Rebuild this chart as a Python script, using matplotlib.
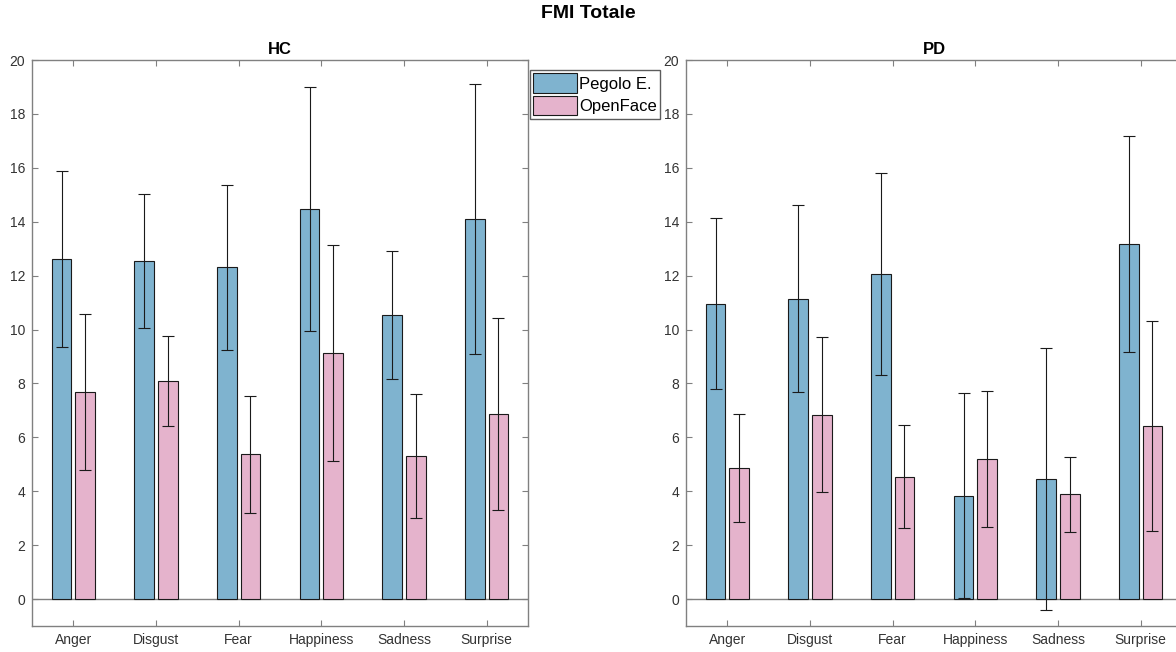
import numpy as np
import matplotlib
matplotlib.use('Agg')
import matplotlib.pyplot as plt

plt.rcParams['font.family'] = ['Liberation Sans', 'DejaVu Sans']

emotions = ['Anger', 'Disgust', 'Fear', 'Happiness', 'Sadness', 'Surprise']

hc_pegolo = [12.62, 12.54, 12.31, 14.47, 10.54, 14.10]
hc_pegolo_err = [3.25, 2.47, 3.07, 4.52, 2.37, 5.00]
hc_openface = [7.67, 8.09, 5.38, 9.13, 5.31, 6.86]
hc_openface_err = [2.90, 1.68, 2.17, 4.00, 2.29, 3.56]

pd_pegolo = [10.95, 11.15, 12.06, 3.83, 4.44, 13.17]
pd_pegolo_err = [3.17, 3.48, 3.73, 3.80, 4.86, 4.00]
pd_openface = [4.85, 6.84, 4.54, 5.21, 3.88, 6.42]
pd_openface_err = [2.00, 2.88, 1.91, 2.52, 1.40, 3.90]

blue = '#7fb3cf'
pink = '#e5b3cc'
spine_col = '#808080'
text_col = '#333333'

fig = plt.figure(figsize=(11.76, 6.52), dpi=100)
ax1 = fig.add_axes([32 / 1176, 26 / 652, 496 / 1176, 566 / 652])
ax2 = fig.add_axes([686 / 1176, 26 / 652, 496 / 1176, 566 / 652])

x = np.arange(1, len(emotions) + 1)
w = 0.24
off = 0.143


def draw(ax, a, a_err, b, b_err, title):
    ax.axhline(0, color=spine_col, lw=1, zorder=1)
    ax.bar(x - off, a, w, color=blue, edgecolor='#1a1a1a', lw=0.8, zorder=2, label='Pegolo E.')
    ax.bar(x + off, b, w, color=pink, edgecolor='#1a1a1a', lw=0.8, zorder=2, label='OpenFace')
    ax.errorbar(x - off, a, yerr=a_err, fmt='none', ecolor='#1a1a1a', elinewidth=0.8,
                capsize=4, capthick=0.8, zorder=3)
    ax.errorbar(x + off, b, yerr=b_err, fmt='none', ecolor='#1a1a1a', elinewidth=0.8,
                capsize=4, capthick=0.8, zorder=3)
    ax.set_xlim(0.5, 6.5)
    ax.set_ylim(-1, 20)
    ax.set_xticks(x)
    ax.set_xticklabels(emotions)
    ax.set_yticks(range(0, 21, 2))
    ax.tick_params(direction='in', top=True, right=True, length=4, width=0.8,
                   color=spine_col, labelcolor=text_col, labelsize=10, pad=5)
    for s in ax.spines.values():
        s.set_color(spine_col)
        s.set_linewidth(1)
    ax.set_title(title, fontsize=12, fontweight='bold', pad=4)


draw(ax1, hc_pegolo, hc_pegolo_err, hc_openface, hc_openface_err, 'HC')
draw(ax2, pd_pegolo, pd_pegolo_err, pd_openface, pd_openface_err, 'PD')

h, l = ax1.get_legend_handles_labels()
fig.legend(h, l, loc='upper left', bbox_to_anchor=(530 / 1176, 1 - 70 / 652),
           fontsize=12, frameon=True, fancybox=False, edgecolor='#333333',
           borderpad=0.2, handlelength=2.6, handleheight=1.45, handletextpad=0.15,
           labelspacing=0.15, borderaxespad=0)

fig.suptitle('FMI Totale', fontsize=14, fontweight='bold', y=1 - 5 / 652, va='top')

fig.savefig('out.png', dpi=100)
